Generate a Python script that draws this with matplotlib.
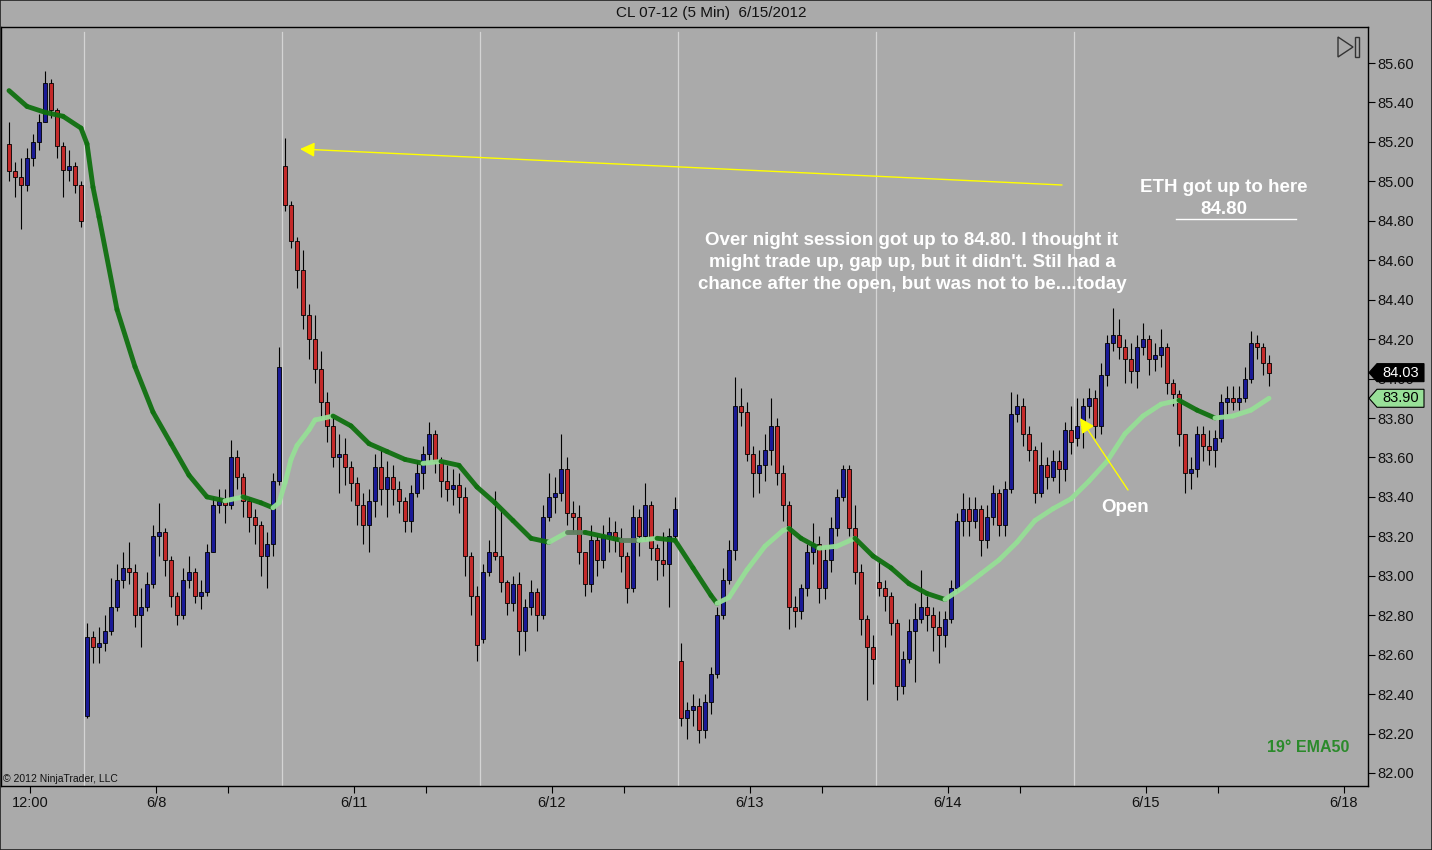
import matplotlib
matplotlib.use('Agg')
import matplotlib.pyplot as plt
import numpy as np
from matplotlib.collections import LineCollection
from matplotlib.patches import Polygon, Rectangle
import matplotlib.transforms as mtransforms

plt.rcParams['font.family'] = ['Liberation Sans', 'DejaVu Sans']

# ---------------- data (10-minute aggregated bars) ----------------
closes = [
    85.05, 85.02, 84.98, 85.12, 85.20, 85.30, 85.50, 85.36, 85.18, 85.06, 85.08, 84.98, 84.80,
    82.69, 82.64, 82.66, 82.72, 82.84, 82.98, 83.04, 83.02, 82.80, 82.84, 82.96, 83.20, 83.22,
    83.08, 82.90, 82.80, 82.98, 83.02, 82.90, 82.92, 83.12, 83.36, 83.38, 83.36, 83.60, 83.50,
    83.38, 83.30, 83.26, 83.10, 83.16, 83.48, 84.06,
    84.88, 84.70, 84.55, 84.32, 84.20, 84.05, 83.88, 83.76, 83.60, 83.62, 83.55, 83.47, 83.36,
    83.26, 83.38, 83.55, 83.44, 83.50, 83.44, 83.38, 83.28, 83.42, 83.52, 83.62, 83.72, 83.58,
    83.48, 83.44, 83.46, 83.40, 83.10, 82.90, 82.65,
    83.02, 83.12, 83.10, 82.97, 82.86, 82.96, 82.72, 82.84, 82.92, 82.80, 83.30, 83.40, 83.42,
    83.54, 83.32, 83.30, 83.12, 82.96, 83.18, 83.08, 83.20, 83.22, 83.18, 83.10, 82.94, 83.30,
    83.20, 83.36, 83.14, 83.08, 83.06, 83.20, 83.34,
    82.28, 82.32, 82.34, 82.22, 82.36, 82.50, 82.80, 82.98, 83.13, 83.86, 83.83, 83.62, 83.52,
    83.56, 83.64, 83.76, 83.52, 83.36, 82.84, 82.82, 82.94, 83.12, 83.16, 82.94, 83.08, 83.24,
    83.40, 83.54, 83.24, 83.02, 82.78, 82.64, 82.58,
    82.94, 82.90, 82.76, 82.44, 82.58, 82.72, 82.78, 82.84, 82.80, 82.74, 82.70, 82.78, 82.94,
    83.28, 83.34, 83.28, 83.34, 83.18, 83.30, 83.42, 83.26, 83.44, 83.82, 83.86, 83.72, 83.64,
    83.42, 83.56, 83.50, 83.58, 83.54, 83.74, 83.68,
    83.76, 83.86, 83.90, 83.76, 84.02, 84.18, 84.22, 84.16, 84.10, 84.04, 84.16, 84.20, 84.10,
    84.12, 84.16, 83.98, 83.92, 83.72, 83.52, 83.54, 83.72, 83.66, 83.64, 83.70, 83.88, 83.90,
    83.88, 83.90, 84.00, 84.18, 84.16, 84.08, 84.03,
]
highs = [
    85.30, 85.10, 85.12, 85.17, 85.24, 85.34, 85.56, 85.52, 85.37, 85.20, 85.16, 85.10, 85.00,
    82.76, 82.72, 82.74, 82.80, 82.99, 83.06, 83.12, 83.17, 83.06, 82.94, 83.02, 83.26, 83.37,
    83.24, 83.10, 82.92, 83.04, 83.10, 83.04, 82.98, 83.16, 83.40, 83.44, 83.44, 83.69, 83.64,
    83.52, 83.40, 83.34, 83.28, 83.22, 83.52, 84.16,
    85.22, 84.90, 84.72, 84.65, 84.38, 84.32, 84.14, 83.93, 83.82, 83.72, 83.70, 83.58, 83.50,
    83.42, 83.44, 83.62, 83.64, 83.58, 83.56, 83.48, 83.40, 83.46, 83.58, 83.66, 83.78, 83.74,
    83.60, 83.56, 83.54, 83.52, 83.45, 83.12, 82.95,
    83.06, 83.18, 83.43, 83.34, 82.98, 83.00, 83.02, 82.88, 82.98, 82.94, 83.36, 83.52, 83.50,
    83.72, 83.60, 83.38, 83.36, 83.12, 83.26, 83.20, 83.26, 83.30, 83.28, 83.24, 83.12, 83.36,
    83.34, 83.47, 83.38, 83.16, 83.22, 83.24, 83.40,
    82.66, 82.36, 82.40, 82.38, 82.40, 82.54, 82.84, 83.04, 83.18, 84.01, 83.95, 83.88, 83.66,
    83.64, 83.72, 83.90, 83.80, 83.56, 83.38, 82.90, 82.96, 83.16, 83.27, 83.20, 83.14, 83.30,
    83.44, 83.56, 83.56, 83.36, 83.06, 82.80, 82.70,
    83.08, 82.98, 82.92, 82.78, 82.62, 82.78, 82.86, 83.03, 82.90, 82.84, 82.82, 82.82, 82.98,
    83.32, 83.42, 83.40, 83.40, 83.36, 83.36, 83.46, 83.44, 83.48, 83.93, 83.92, 83.90, 83.76,
    83.66, 83.68, 83.60, 83.64, 83.64, 83.78, 83.86,
    83.90, 83.90, 83.95, 83.94, 84.08, 84.22, 84.36, 84.30, 84.20, 84.18, 84.22, 84.28, 84.22,
    84.18, 84.25, 84.18, 84.00, 83.94, 83.72, 83.60, 83.76, 83.76, 83.74, 83.74, 83.92, 83.96,
    83.96, 83.96, 84.06, 84.24, 84.22, 84.18, 84.12,
]
lows = [
    85.00, 84.92, 84.76, 84.95, 85.08, 85.16, 85.30, 85.32, 85.12, 84.92, 85.00, 84.94, 84.77,
    82.28, 82.56, 82.56, 82.62, 82.70, 82.82, 82.94, 82.96, 82.74, 82.64, 82.82, 82.94, 83.10,
    83.00, 82.84, 82.75, 82.78, 82.94, 82.86, 82.83, 82.90, 83.12, 83.32, 83.27, 83.34, 83.44,
    83.30, 83.22, 83.16, 83.00, 82.94, 83.10, 83.46,
    84.85, 84.66, 84.46, 84.25, 84.10, 83.98, 83.80, 83.68, 83.55, 83.42, 83.46, 83.38, 83.26,
    83.16, 83.12, 83.30, 83.36, 83.30, 83.36, 83.32, 83.22, 83.22, 83.40, 83.44, 83.58, 83.52,
    83.40, 83.38, 83.36, 83.32, 83.00, 82.80, 82.57,
    82.66, 83.00, 83.08, 82.92, 82.80, 82.82, 82.60, 82.62, 82.80, 82.72, 82.78, 83.28, 83.32,
    83.38, 83.26, 83.22, 83.06, 82.90, 82.92, 83.00, 83.04, 83.12, 83.12, 83.02, 82.86, 82.92,
    83.10, 83.18, 83.08, 82.98, 83.00, 82.84, 83.18,
    82.24, 82.17, 82.24, 82.15, 82.18, 82.30, 82.48, 82.78, 82.96, 83.08, 83.76, 83.58, 83.40,
    83.42, 83.48, 83.56, 83.46, 83.28, 82.73, 82.74, 82.78, 82.90, 83.06, 82.86, 82.88, 83.02,
    83.20, 83.38, 83.20, 82.96, 82.70, 82.37, 82.45,
    82.90, 82.82, 82.70, 82.37, 82.40, 82.56, 82.46, 82.76, 82.72, 82.62, 82.56, 82.64, 82.76,
    82.92, 83.20, 83.20, 83.24, 83.10, 83.14, 83.26, 83.20, 83.20, 83.42, 83.78, 83.66, 83.58,
    83.37, 83.40, 83.44, 83.48, 83.42, 83.48, 83.62,
    83.66, 83.65, 83.80, 83.70, 83.72, 83.96, 84.14, 84.10, 83.98, 83.98, 83.95, 84.12, 84.02,
    84.04, 84.06, 83.92, 83.86, 83.66, 83.42, 83.44, 83.50, 83.58, 83.56, 83.55, 83.68, 83.82,
    83.84, 83.84, 83.88, 83.98, 84.10, 84.02, 83.96,
]
session_starts = [0, 13, 46, 79, 112, 145, 178]
session_opens = [85.19, 82.29, 85.08, 82.68, 82.57, 82.97, 83.70]

# EMA50 at these bar positions
ema_idx = [0, 3, 6, 9, 12, 13, 14, 15, 18, 21, 24, 27, 30, 33, 36, 39, 42, 44, 45, 46, 47,
           48, 50, 51, 54, 57, 60, 63, 66, 69, 72, 75, 78, 81, 84, 87, 90, 93, 96, 99, 102,
           105, 108, 111, 114, 117, 118, 120, 123, 126, 129, 130, 132, 135, 138, 141, 144,
           147, 150, 153, 156, 159, 162, 165, 168, 171, 174, 177, 180, 183, 186, 189, 192,
           195, 198, 201, 204, 207, 210]
ema_vals = [85.46, 85.38, 85.35, 85.33, 85.27, 85.19, 84.97, 84.82, 84.35, 84.06, 83.83,
            83.67, 83.51, 83.40, 83.38, 83.40, 83.37, 83.345, 83.37, 83.47, 83.59,
            83.66, 83.74, 83.79, 83.81, 83.76, 83.67, 83.63, 83.59, 83.57, 83.58, 83.56,
            83.45, 83.37, 83.28, 83.19, 83.17, 83.22, 83.22, 83.20, 83.18, 83.18, 83.19,
            83.18, 83.04, 82.90, 82.86, 82.89, 83.03, 83.15, 83.23, 83.24, 83.19, 83.14,
            83.15, 83.19, 83.10, 83.04, 82.96, 82.91, 82.88, 82.94, 83.01, 83.08, 83.17,
            83.28, 83.34, 83.39, 83.48, 83.58, 83.72, 83.81, 83.87, 83.89, 83.84, 83.80,
            83.81, 83.84, 83.90]

date_labels = ['12:00', '6/8', '6/11', '6/12', '6/13', '6/14', '6/15', '6/18']
price_ticks = [82.00, 82.20, 82.40, 82.60, 82.80, 83.00, 83.20, 83.40, 83.60, 83.80,
               84.00, 84.20, 84.40, 84.60, 84.80, 85.00, 85.20, 85.40, 85.60]

# ---------------- figure ----------------
W, H = 1432, 850
BG = '#aaaaaa'
fig = plt.figure(figsize=(W / 100, H / 100), dpi=100)
fig.patch.set_facecolor(BG)

L, R, T, B = 1, 1368, 27, 786
ax = fig.add_axes([L / W, (H - B) / H, (R - L) / W, (B - T) / H])
ax.set_facecolor(BG)

n = len(closes)
idx = np.arange(n)
opens = np.empty(n)
for i in range(n):
    opens[i] = closes[i - 1] if i > 0 else closes[0]
for s, o in zip(session_starts, session_opens):
    opens[s] = o
closes_a = np.array(closes)
highs_a = np.array(highs)
lows_a = np.array(lows)

PX = 0.2 / 39.444  # price per pixel
ax.set_xlim(-1.333, 226.5)
ax.set_ylim(82.0 - 13 * PX, 82.0 + (773 - 27) * PX)

# session separators
for k in range(6):
    ax.axvline(12.5 + 33 * k, ymin=0, ymax=0.993, color='#d4d4d4', lw=0.9, zorder=1)

# wicks
ax.vlines(idx, lows_a, highs_a, color='black', lw=0.8, zorder=2)
# bodies
up = closes_a >= opens
body_bottom = np.minimum(opens, closes_a)
body_h = np.maximum(np.abs(closes_a - opens), 0.006)
cols = np.where(up, '#1a1a96', '#c42a2a')
ax.bar(idx, body_h, bottom=body_bottom, width=0.6, color=cols,
       edgecolor='black', linewidth=0.6, zorder=3)

# EMA50 colored by slope
ex = np.array(ema_idx, dtype=float)
ey = np.array(ema_vals)
pts = np.column_stack([ex, ey]).reshape(-1, 1, 2)
segs = np.concatenate([pts[:-1], pts[1:]], axis=1)
slope = np.diff(ey) / np.diff(ex)
seg_cols = ['#96de96' if d > 0.002 else ('#107010' if d < -0.002 else '#5f7f5f') for d in slope]
lc = LineCollection(segs, colors=seg_cols, linewidths=3.5, capstyle='round',
                    joinstyle='round', zorder=4, alpha=0.95)
ax.add_collection(lc)

# axes styling
for sp in ax.spines.values():
    sp.set_color('black')
    sp.set_linewidth(1.0)
ax.yaxis.tick_right()
ax.set_yticks(price_ticks)
ax.set_yticklabels(['%.2f' % v for v in price_ticks])
ax.tick_params(axis='y', direction='out', length=5, width=0.8, pad=2,
               labelsize=10.5, colors='black', labelcolor='#111111')

major_x = [3.5] + [24.5 + 33 * k for k in range(7)]
minor_x = [36.5 + 33 * k for k in range(6)]
ax.set_xticks(major_x)
ax.set_xticklabels(date_labels)
ax.set_xticks(minor_x, minor=True)
ax.tick_params(axis='x', which='major', direction='out', length=5, width=0.8, pad=2,
               labelsize=10.5, labelcolor='#111111')
ax.tick_params(axis='x', which='minor', direction='out', length=5, width=0.8)

# annotations: yellow arrows
ax.annotate('', xy=((300 - 9) / 6, 82 + (773 - 149) * PX),
            xytext=((1062 - 9) / 6, 82 + (773 - 185) * PX),
            arrowprops=dict(arrowstyle='-|>', color='#ffff00', lw=1.0, mutation_scale=22,
                            shrinkA=0, shrinkB=0), zorder=6)
ax.annotate('', xy=((1080 - 9) / 6, 82 + (773 - 418) * PX),
            xytext=((1128 - 9) / 6, 82 + (773 - 490) * PX),
            arrowprops=dict(arrowstyle='-|>', color='#ffff00', lw=1.0, mutation_scale=22,
                            shrinkA=0, shrinkB=0), zorder=6)

def ftext(x, y, s, **kw):
    fig.text(x / W, 1 - y / H, s, **kw)

ftext(711, 13, 'CL 07-12 (5 Min)  6/15/2012', ha='center', va='center', fontsize=11, color='#111111')
ftext(1224, 187, 'ETH got up to here', ha='center', va='center', fontsize=13.5,
      fontweight='bold', color='white')
ftext(1224, 209, '84.80', ha='center', va='center', fontsize=13.5, fontweight='bold', color='white')
fig.add_artist(plt.Line2D([1176 / W, 1296 / W], [1 - 219 / H, 1 - 219 / H], color='white', lw=1.0))
para = ['Over night session got up to 84.80. I thought it',
        'might trade up, gap up, but it didn\'t. Stil had a',
        'chance after the open, but was not to be....today']
for k, line in enumerate(para):
    ftext(912, 241 + 22 * k, line, ha='center', va='center', fontsize=13.5,
          fontweight='bold', color='white')
ftext(1125, 507, 'Open', ha='center', va='center', fontsize=13.5, fontweight='bold', color='white')
ftext(1308, 748, '19° EMA50', ha='center', va='center', fontsize=11.5, fontweight='bold', color='#2b8a2b')
ftext(3, 779, '© 2012 NinjaTrader, LLC', ha='left', va='center', fontsize=7.5, color='#111111')

# play-to-end icon
tri = Polygon([[1338 / W, 1 - 37 / H], [1338 / W, 1 - 57 / H], [1353 / W, 1 - 47 / H]],
              closed=True, fill=False, edgecolor='#333333', lw=1.0, transform=fig.transFigure)
fig.add_artist(tri)
fig.add_artist(Rectangle((1355 / W, 1 - 57 / H), 4 / W, 20 / H, fill=False, edgecolor='#333333',
                         lw=1.0, transform=fig.transFigure))

# price markers on the right axis
blend = mtransforms.blended_transform_factory(fig.transFigure, ax.transData)
hh = 9 * PX

def marker(price, face, tcol, edge):
    verts = [[1369 / W, price], [1377 / W, price + hh], [1424 / W, price + hh],
             [1424 / W, price - hh], [1377 / W, price - hh]]
    poly = Polygon(verts, closed=True, facecolor=face, edgecolor=edge, lw=0.8,
                   transform=blend, clip_on=False, zorder=10)
    fig.add_artist(poly)
    fig.text(1401 / W, price, '%.2f' % price, transform=blend, ha='center', va='center',
             fontsize=10.5, color=tcol, zorder=11)

marker(closes[-1], 'black', 'white', 'black')
marker(ema_vals[-1], '#98e098', 'black', 'black')

# figure border
fig.add_artist(Rectangle((0, 0), 1, 1, fill=False, edgecolor='#222222', lw=1.2,
                         transform=fig.transFigure))

fig.savefig('out.png', dpi=100, facecolor=BG)
